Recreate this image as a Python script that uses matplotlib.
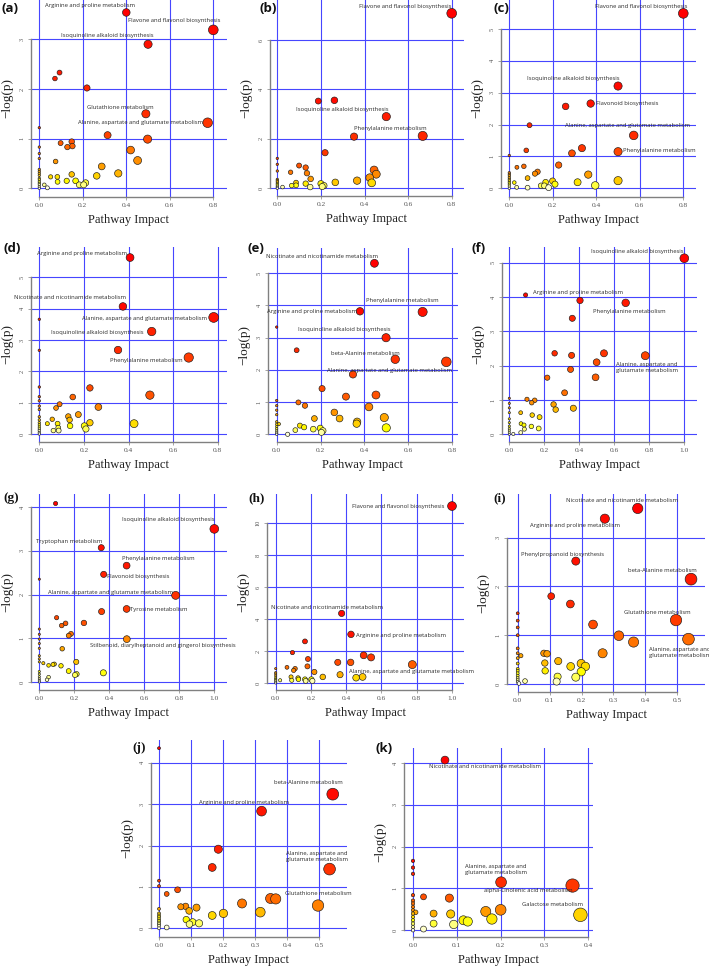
import numpy as np
import matplotlib
matplotlib.use("Agg")
import matplotlib.pyplot as plt
from matplotlib.colors import hsv_to_rgb
from matplotlib.ticker import FormatStrFormatter

# ------------------------------------------------------------------ data
# (a)
a_impact = [0.40, 0.80, 0.50, 0.49, 0.774, 0.093, 0.072, 0.219, 0.314, 0.498, 0.0, 0.098, 0.149,
            0.129, 0.152, 0.0, 0.0, 0.0, 0.42, 0.452, 0.075, 0.287, 0.363, 0.264, 0.149, 0.052,
            0.083, 0.084, 0.126, 0.167, 0.184, 0.204, 0.213, 0.023, 0.037, 0.0,
            0.0, 0.0, 0.0, 0.0, 0.0, 0.0, 0.0, 0.0, 0.0, 0.0]
a_logp = [3.54, 3.19, 2.90, 1.50, 1.32, 2.33, 2.21, 2.02, 1.07, 0.99, 1.22, 0.91, 0.94,
          0.83, 0.85, 0.83, 0.70, 0.60, 0.77, 0.56, 0.54, 0.44, 0.30, 0.25, 0.28, 0.23,
          0.23, 0.13, 0.15, 0.15, 0.07, 0.07, 0.11, 0.07, 0.01, 0.0,
          0.38, 0.34, 0.30, 0.26, 0.20, 0.17, 0.13, 0.10, 0.07, 0.03]
a_names = ["Arginine and proline metabolism", "Flavone and flavonol biosynthesis",
           "Isoquinoline alkaloid biosynthesis", "Glutathione metabolism",
           "Alanine, aspartate and glutamate metabolism"]

# (b)
b_impact = [0.80, 0.50, 0.667, 0.188, 0.262, 0.352, 0.219, 0.0, 0.0, 0.0, 0.10, 0.13, 0.136,
            0.061, 0.444, 0.454, 0.424, 0.153, 0.086, 0.13, 0.066, 0.086, 0.151, 0.20, 0.214,
            0.206, 0.266, 0.366, 0.433, 0.024, 0.0,
            0.0, 0.0, 0.0, 0.0, 0.0, 0.0, 0.0]
b_logp = [7.08, 2.90, 2.12, 3.53, 3.56, 2.09, 1.44, 1.21, 0.97, 0.70, 0.92, 0.84, 0.61,
          0.65, 0.74, 0.57, 0.43, 0.38, 0.23, 0.19, 0.11, 0.12, 0.05, 0.19, 0.11,
          0.07, 0.24, 0.31, 0.22, 0.05, 0.0,
          0.36, 0.31, 0.26, 0.20, 0.15, 0.09, 0.04]
b_names = ["Flavone and flavonol biosynthesis", "Isoquinoline alkaloid biosynthesis",
           "Phenylalanine metabolism"]

# (c)
c_impact = [0.80, 0.50, 0.374, 0.572, 0.50, 0.259, 0.093, 0.334, 0.288, 0.078, 0.0, 0.227,
            0.035, 0.067, 0.13, 0.118, 0.084, 0.363, 0.50, 0.314, 0.395, 0.023, 0.034, 0.084,
            0.146, 0.161, 0.167, 0.199, 0.181, 0.21, 0.0,
            0.0, 0.0, 0.0, 0.0, 0.0, 0.0, 0.0, 0.0, 0.0]
c_logp = [5.49, 3.21, 2.66, 1.66, 1.15, 2.57, 1.98, 1.26, 1.10, 1.19, 1.03, 0.73,
          0.66, 0.69, 0.52, 0.46, 0.32, 0.43, 0.24, 0.19, 0.09, 0.18, 0.03, 0.02,
          0.08, 0.08, 0.19, 0.23, 0.02, 0.13, 0.0,
          0.49, 0.44, 0.39, 0.33, 0.28, 0.23, 0.18, 0.13, 0.07]
c_names = ["Flavone and flavonol biosynthesis", "Isoquinoline alkaloid biosynthesis",
           "Flavonoid biosynthesis", "Alanine, aspartate and glutamate metabolism",
           "Phenylalanine metabolism"]

# (d)
d_impact = [0.407, 0.375, 0.782, 0.504, 0.67, 0.353, 0.0, 0.0, 0.0, 0.0, 0.0, 0.0, 0.0,
            0.227, 0.15, 0.496, 0.265, 0.091, 0.075, 0.175, 0.13, 0.136, 0.058, 0.227,
            0.425, 0.036, 0.082, 0.085, 0.138, 0.202, 0.209, 0.063, 0.087, 0.0,
            0.0, 0.0, 0.0, 0.0, 0.0, 0.0, 0.0, 0.0]
d_logp = [5.63, 4.07, 3.72, 3.27, 2.44, 2.68, 3.66, 2.67, 1.50, 1.19, 1.06, 0.89, 0.78,
          1.47, 1.18, 1.24, 0.86, 0.95, 0.83, 0.62, 0.56, 0.45, 0.47, 0.36,
          0.33, 0.33, 0.33, 0.20, 0.26, 0.26, 0.16, 0.11, 0.11, 0.0,
          0.55, 0.45, 0.36, 0.29, 0.22, 0.16, 0.11, 0.05]
d_names = ["Arginine and proline metabolism", "Nicotinate and nicotinamide metabolism",
           "Alanine, aspartate and glutamate metabolism", "Isoquinoline alkaloid biosynthesis",
           "Phenylalanine metabolism"]

# (e)
e_impact = [0.446, 0.666, 0.38, 0.499, 0.541, 0.774, 0.348, 0.0, 0.091, 0.207, 0.316, 0.453,
            0.421, 0.099, 0.129, 0.0, 0.0, 0.0, 0.0, 0.263, 0.172, 0.287, 0.367, 0.365,
            0.491, 0.50, 0.106, 0.125, 0.085, 0.167, 0.199, 0.211, 0.204, 0.05, 0.01,
            0.0, 0.0, 0.0, 0.0, 0.0, 0.0, 0.0]
e_logp = [5.31, 3.80, 3.82, 3.00, 2.33, 2.25, 1.86, 3.33, 2.61, 1.42, 1.17, 1.22,
          0.85, 0.99, 0.89, 1.05, 0.89, 0.75, 0.61, 0.68, 0.49, 0.49, 0.39, 0.33,
          0.52, 0.20, 0.27, 0.22, 0.13, 0.16, 0.19, 0.11, 0.06, 0.0, 0.32,
          0.39, 0.31, 0.24, 0.17, 0.10, 0.04, 0.0]
e_names = ["Nicotinate and nicotinamide metabolism", "Phenylalanine metabolism",
           "Arginine and proline metabolism", "Isoquinoline alkaloid biosynthesis",
           "beta-Alanine metabolism", "Alanine, aspartate and glutamate metabolism"]

# (f)
f_impact = [1.0, 0.093, 0.665, 0.777, 0.404, 0.36, 0.259, 0.356, 0.541, 0.499, 0.35, 0.217,
            0.493, 0.316, 0.101, 0.145, 0.128, 0.253, 0.265, 0.366, 0.065, 0.131, 0.173,
            0.067, 0.084, 0.086, 0.126, 0.168, 0.065, 0.023, 0.0,
            0.0, 0.0, 0.0, 0.0, 0.0, 0.0, 0.0, 0.0, 0.0, 0.0]
f_logp = [5.13, 4.06, 3.83, 2.29, 3.90, 3.38, 2.36, 2.30, 2.36, 2.10, 1.89, 1.65,
          1.66, 1.21, 1.02, 0.99, 0.92, 0.87, 0.72, 0.76, 0.63, 0.56, 0.50,
          0.31, 0.27, 0.15, 0.23, 0.17, 0.05, 0.01, 0.0,
          1.05, 0.90, 0.77, 0.63, 0.45, 0.34, 0.24, 0.17, 0.12, 0.06]
f_names = ["Isoquinoline alkaloid biosynthesis", "Arginine and proline metabolism",
           "Phenylalanine metabolism", "Alanine, aspartate and\nglutamate metabolism"]

# (g)
g_impact = [1.0, 0.354, 0.499, 0.368, 0.779, 0.499, 0.50, 0.093, 0.0, 0.356, 0.099, 0.15,
            0.128, 0.255, 0.181, 0.168, 0.131, 0.211, 0.023, 0.053, 0.078, 0.086, 0.124,
            0.168, 0.204, 0.213, 0.366, 0.053, 0.044, 0.0,
            0.0, 0.0, 0.0, 0.0, 0.0, 0.0, 0.0, 0.0, 0.0, 0.0, 0.0, 0.0, 0.0]
g_logp = [3.50, 3.07, 2.66, 2.46, 1.98, 1.67, 0.98, 4.08, 2.35, 1.61, 1.47, 1.34,
          1.29, 1.35, 1.10, 1.06, 0.76, 0.46, 0.43, 0.38, 0.40, 0.41, 0.37,
          0.25, 0.16, 0.18, 0.21, 0.11, 0.05, 0.0,
          1.21, 1.09, 0.98, 0.88, 0.77, 0.60, 0.53, 0.46, 0.24, 0.18, 0.12, 0.07, 0.03]
g_names = ["Isoquinoline alkaloid biosynthesis", "Tryptophan metabolism",
           "Phenylalanine metabolism", "Flavonoid biosynthesis",
           "Alanine, aspartate and glutamate metabolism", "Tyrosine metabolism",
           "Stilbenoid, diarylheptanoid and gingerol biosynthesis"]

# (h)
h_impact = [1.0, 0.374, 0.427, 0.775, 0.166, 0.095, 0.499, 0.541, 0.183, 0.352, 0.425, 0.18,
            0.064, 0.11, 0.102, 0.219, 0.0, 0.0, 0.365, 0.267, 0.456, 0.493, 0.087, 0.127,
            0.129, 0.091, 0.166, 0.17, 0.202, 0.208, 0.025, 0.0,
            0.0, 0.0, 0.0, 0.0, 0.0, 0.0]
h_logp = [11.06, 4.35, 3.04, 1.15, 2.60, 1.90, 1.73, 1.60, 1.50, 1.29, 1.29, 1.04,
          0.98, 0.90, 0.79, 0.69, 0.90, 0.65, 0.52, 0.38, 0.33, 0.38, 0.38, 0.31,
          0.23, 0.17, 0.23, 0.13, 0.23, 0.13, 0.17, 0.0,
          0.56, 0.44, 0.31, 0.23, 0.15, 0.06]
h_names = ["Flavone and flavonol biosynthesis", "Nicotinate and nicotinamide metabolism",
           "Arginine and proline metabolism", "Alanine, aspartate and glutamate metabolism"]

# (i)
i_impact = [0.376, 0.273, 0.182, 0.543, 0.496, 0.535, 0.105, 0.165, 0.236, 0.317, 0.363,
            0.266, 0.0, 0.0, 0.0, 0.0, 0.0, 0.0, 0.01, 0.082, 0.092, 0.085, 0.127, 0.086,
            0.166, 0.199, 0.212, 0.199, 0.125, 0.182, 0.122, 0.023, 0.004,
            0.0, 0.0, 0.0, 0.0, 0.0, 0.0, 0.0, 0.0, 0.0]
i_logp = [3.60, 3.39, 2.52, 2.15, 1.31, 0.92, 1.80, 1.64, 1.22, 0.99, 0.86,
          0.63, 1.45, 1.30, 1.16, 1.00, 0.73, 0.63, 0.58, 0.63, 0.62, 0.43, 0.47, 0.27,
          0.36, 0.42, 0.36, 0.25, 0.15, 0.14, 0.05, 0.06, 0.01,
          0.53, 0.42, 0.31, 0.27, 0.22, 0.17, 0.12, 0.08, 0.04]
i_names = ["Nicotinate and nicotinamide metabolism", "Arginine and proline metabolism",
           "Phenylpropanoid biosynthesis", "beta-Alanine metabolism", "Glutathione metabolism",
           "Alanine, aspartate and\nglutamate metabolism"]

# (j)
j_impact = [0.542, 0.32, 0.532, 0.496, 0.0, 0.185, 0.166, 0.0, 0.0, 0.058, 0.024, 0.348,
            0.364, 0.259, 0.068, 0.083, 0.117, 0.094, 0.0, 0.316, 0.201, 0.166, 0.085,
            0.105, 0.125, 0.095, 0.024, 0.0,
            0.0, 0.0, 0.0, 0.0, 0.0, 0.0, 0.0, 0.0]
j_logp = [3.24, 2.83, 1.43, 0.55, 4.35, 1.91, 1.47, 1.15, 1.02, 0.93, 0.83, 0.72,
          0.71, 0.60, 0.52, 0.53, 0.50, 0.42, 0.47, 0.39, 0.36, 0.31, 0.21,
          0.15, 0.12, 0.10, 0.02, 0.0,
          0.36, 0.31, 0.27, 0.22, 0.18, 0.14, 0.10, 0.06]
j_names = ["beta-Alanine metabolism", "Arginine and proline metabolism",
           "Alanine, aspartate and\nglutamate metabolism", "Glutathione metabolism"]

# (k)
k_impact = [0.073, 0.201, 0.364, 0.382, 0.0, 0.0, 0.0, 0.0, 0.024, 0.083, 0.0, 0.0, 0.166,
            0.2, 0.047, 0.086, 0.006, 0.115, 0.125, 0.18, 0.047, 0.093, 0.024, 0.0,
            0.0, 0.0, 0.0, 0.0, 0.0, 0.0, 0.0]
k_logp = [4.07, 1.15, 1.07, 0.37, 1.66, 1.50, 1.35, 0.84, 0.80, 0.77, 0.71, 0.64, 0.45,
          0.49, 0.40, 0.39, 0.43, 0.24, 0.21, 0.27, 0.16, 0.14, 0.03, 0.0,
          0.56, 0.48, 0.40, 0.32, 0.24, 0.16, 0.08]
k_names = ["Nicotinate and nicotinamide metabolism",
           "Alanine, aspartate and\nglutamate metabolism",
           "alpha-Linolenic acid metabolism", "Galactose metabolism"]

panel_letters = ["(a)", "(b)", "(c)", "(d)", "(e)", "(f)", "(g)", "(h)", "(i)", "(j)", "(k)"]
x_label = "Pathway Impact"
y_label = "\u2212log(p)"

panels = [
    (a_impact, a_logp, a_names), (b_impact, b_logp, b_names), (c_impact, c_logp, c_names),
    (d_impact, d_logp, d_names), (e_impact, e_logp, e_names), (f_impact, f_logp, f_names),
    (g_impact, g_logp, g_names), (h_impact, h_logp, h_names), (i_impact, i_logp, i_names),
    (j_impact, j_logp, j_names), (k_impact, k_logp, k_names),
]

# ------------------------------------------------------------------ layout (pixels)
W, H, DPI = 709, 968, 100
LAYOUT = [
    dict(box=(31, 0, 227, 197), xcal=(0, 39.3, 0.8, 213.3), ycal=(0, 188.3, 3, 39.3),
         xt=[0, 0.2, 0.4, 0.6, 0.8], yt=[0, 1, 2, 3], letter=(1, 8, 'sans')),
    dict(box=(270, 0, 464, 196), xcal=(0, 277.3, 0.8, 451.7), ycal=(0, 188.3, 6, 40),
         xt=[0, 0.2, 0.4, 0.6, 0.8], yt=[0, 2, 4, 6], letter=(259, 8, 'sans')),
    dict(box=(501, 0, 696, 197), xcal=(0, 509.3, 0.8, 683.3), ycal=(0, 188.3, 5, 29),
         xt=[0, 0.2, 0.4, 0.6, 0.8], yt=[0, 1, 2, 3, 4, 5], letter=(494, 8, 'sans')),
    dict(box=(31, 247, 227, 442), xcal=(0, 39.3, 0.8, 217.7), ycal=(0, 434, 5, 277.3),
         xt=[0, 0.2, 0.4, 0.6, 0.8], yt=[0, 1, 2, 3, 4, 5], letter=(3, 248, 'sans')),
    dict(box=(268, 248, 458, 442), xcal=(0, 276.7, 0.8, 452), ycal=(0, 434.3, 5, 273.3),
         xt=[0, 0.2, 0.4, 0.6, 0.8], yt=[0, 1, 2, 3, 4, 5], letter=(247, 248, 'sans')),
    dict(box=(502, 247, 697, 442), xcal=(0, 509.3, 1.0, 684.3), ycal=(0, 434.3, 5, 262.7),
         xt=[0, 0.2, 0.4, 0.6, 0.8, 1.0], yt=[0, 1, 2, 3, 4, 5], letter=(472, 248, 'sans')),
    dict(box=(31, 494, 227, 690), xcal=(0, 39.3, 1.0, 214.3), ycal=(0, 682, 4, 507),
         xt=[0, 0.2, 0.4, 0.6, 0.8, 1.0], yt=[0, 1, 2, 3, 4], letter=(3, 498, 'serif')),
    dict(box=(267, 494, 464, 690), xcal=(0, 275.7, 1.0, 452), ycal=(0, 683, 10, 523),
         xt=[0, 0.2, 0.4, 0.6, 0.8, 1.0], yt=[0, 2, 4, 6, 8, 10], letter=(248, 498, 'serif')),
    dict(box=(507, 494, 705, 692), xcal=(0, 517.7, 0.5, 677.3), ycal=(0, 684, 3, 537.7),
         xt=[0, 0.1, 0.2, 0.3, 0.4, 0.5], yt=[0, 1, 2, 3], letter=(493, 498, 'serif')),
    dict(box=(151, 740, 347, 937), xcal=(0, 159, 0.5, 319.3), ycal=(0, 928.3, 4, 762.7),
         xt=[0, 0.1, 0.2, 0.3, 0.4, 0.5], yt=[0, 1, 2, 3, 4], letter=(132, 748, 'serif')),
    dict(box=(404, 748, 593, 937), xcal=(0, 413, 0.4, 588.3), ycal=(0, 930.3, 4, 763),
         xt=[0, 0.1, 0.2, 0.3, 0.4], yt=[0, 1, 2, 3, 4], letter=(376, 748, 'sans')),
]

# label offsets in pixels (dx, dy up, horizontal alignment)
LABEL_OFFSETS = [
    [(8.3, 6.7, 'right'), (6.7, 9.3, 'right'), (5.7, 8.3, 'right'), (7.3, 6.3, 'right'), (-4.3, 0.7, 'right')],
    [(-0.7, 7.3, 'right'), (1.7, 7.3, 'right'), (4, 7.7, 'right')],
    [(4.3, 7.3, 'right'), (1, 7.7, 'right'), (5.3, 0, 'left'), (56.3, 9.7, 'right'), (4.7, 1, 'left')],
    [(-3.3, 4.3, 'right'), (3, 8.7, 'right'), (-7, -1, 'right'), (-8.3, -0.7, 'right'), (-6, -3, 'right')],
    [(4, 7.3, 'right'), (15.7, 11.7, 'right'), (-3.3, 0, 'right'), (4.7, 7.7, 'right'), (4.7, 6, 'right'), (5.3, -9, 'right')],
    [(-1, 6.7, 'right'), (7.7, 2.3, 'left'), (-32.3, -8.3, 'left'), (-29.3, -11.3, 'left')],
    [(0, 9, 'right'), (1.3, 6, 'right'), (-5, 7, 'left'), (3.7, -1.7, 'left'), (-3, 3.3, 'right'), (3.3, -1, 'left'), (-36.3, -6.7, 'left')],
    [(-7.7, 0, 'right'), (-71, 6.3, 'left'), (4.7, -1, 'left'), (-63, -7.3, 'left')],
    [(-71.7, 8.3, 'left'), (-75, -7, 'left'), (-55, 6.3, 'left'), (-63.3, 9, 'left'), (-52, 7.7, 'left'), (-39.7, -13, 'left')],
    [(-58.3, 11.3, 'left'), (-62.3, 9, 'left'), (-43.7, 12.3, 'left'), (-33, 11.7, 'left')],
    [(-15.7, -6, 'left'), (-35.7, 12.3, 'left'), (-89, -5.3, 'left'), (-58.7, 10.3, 'left')],
]

GRID_COL = '#4646ff'
AXIS_COL = '#808080'
SERIF = ['Liberation Serif', 'DejaVu Serif']
SANS = ['Open Sans', 'DejaVu Sans']


def heat_colors(n):
    """R's heat.colors(n)."""
    j = n // 4
    i = n - j
    cols = []
    if i > 0:
        for h in np.linspace(0, 1 / 6, i):
            cols.append(hsv_to_rgb((h, 1, 1)))
    if j > 0:
        for s in np.linspace(1 - 1 / (2 * j), 1 / (2 * j), j):
            cols.append(hsv_to_rgb((1 / 6, s, 1)))
    return cols


fig = plt.figure(figsize=(W / DPI, H / DPI), dpi=DPI)
fig.patch.set_facecolor('white')

for idx, (imp, lp, names) in enumerate(panels):
    lay = LAYOUT[idx]
    L, T, R, B = lay['box']
    ax = fig.add_axes([L / W, 1 - B / H, (R - L) / W, (B - T) / H])
    ax.set_facecolor('none')
    xv1, px1, xv2, px2 = lay['xcal']
    sx = (px2 - px1) / (xv2 - xv1)
    ax.set_xlim(xv1 + (L - px1) / sx, xv1 + (R - px1) / sx)
    yv1, py1, yv2, py2 = lay['ycal']
    sy = (py1 - py2) / (yv2 - yv1)
    ax.set_ylim(yv1 - (B - py1) / sy, yv1 + (py1 - T) / sy)

    # grid
    for t in lay['xt']:
        ax.axvline(t, color=GRID_COL, lw=0.8, zorder=1)
    for t in lay['yt']:
        ax.axhline(t, color=GRID_COL, lw=0.8, zorder=1)

    # circles (MetaboAnalyst style)
    imp_a = np.asarray(imp, float)
    lp_a = np.asarray(lp, float)
    order = np.argsort(-lp_a, kind='stable')
    x = imp_a[order]
    y = lp_a[order]
    sq = np.sqrt(x)
    mn, mx = sq.min(), sq.max()
    maxR = (mx - mn) / 40
    minR = (mx - mn) / 160
    r = minR + (maxR - minR) * (sq - mn) / (mx - mn)
    d_pt = 2 * r * sx * 72 / DPI
    ax.scatter(x, y, s=d_pt ** 2, c=heat_colors(len(y)), edgecolors='#1a1a1a',
               linewidths=0.45, zorder=3, clip_on=False)

    # labels
    for k, name in enumerate(names):
        dx, dy, ha = LABEL_OFFSETS[idx][k]
        ax.annotate(name, xy=(imp[k], lp[k]), xytext=(dx, dy), textcoords='offset pixels',
                    ha=ha, va='center', fontsize=4.2, family=SANS, color='#2b2b2b',
                    multialignment='left', linespacing=1.25, annotation_clip=False, zorder=5)

    # axes
    for s in ['top', 'right']:
        ax.spines[s].set_visible(False)
    ax.spines['left'].set_bounds(lay['yt'][0], lay['yt'][-1])
    ax.spines['bottom'].set_bounds(lay['xt'][0], lay['xt'][-1])
    for s in ['left', 'bottom']:
        ax.spines[s].set_color(AXIS_COL)
        ax.spines[s].set_linewidth(1.0)
    ax.set_xticks(lay['xt'])
    ax.set_yticks(lay['yt'])
    ax.xaxis.set_major_formatter(FormatStrFormatter('%.1f'))
    ax.yaxis.set_major_formatter(FormatStrFormatter('%d'))
    ax.tick_params(direction='out', length=2, width=0.5, colors=AXIS_COL, pad=2.5)
    for lab in ax.get_xticklabels():
        lab.set_fontfamily(SERIF)
        lab.set_fontsize(5.3)
        lab.set_color('#555555')
    for lab in ax.get_yticklabels():
        lab.set_fontfamily(SERIF)
        lab.set_fontsize(4.6)
        lab.set_color('#555555')
        lab.set_rotation(90)
        lab.set_va('center')

    # axis titles
    fig.text(((L + R) / 2) / W, 1 - (B + 23) / H, x_label, ha='center', va='center',
             fontsize=9, family=SERIF, color='#222222')
    fig.text((L - 24) / W, 1 - ((T + B) / 2) / H, y_label, ha='center', va='center',
             rotation=90, fontsize=9.5, family=SERIF, color='#222222')

    lx, ly, fam = lay['letter']
    fig.text(lx / W, 1 - ly / H, panel_letters[idx], ha='left', va='center',
             fontsize=9.5, fontweight='bold', family=(SANS if fam == 'sans' else SERIF),
             color='#111111')

fig.savefig('out.png', dpi=DPI, facecolor='white')
